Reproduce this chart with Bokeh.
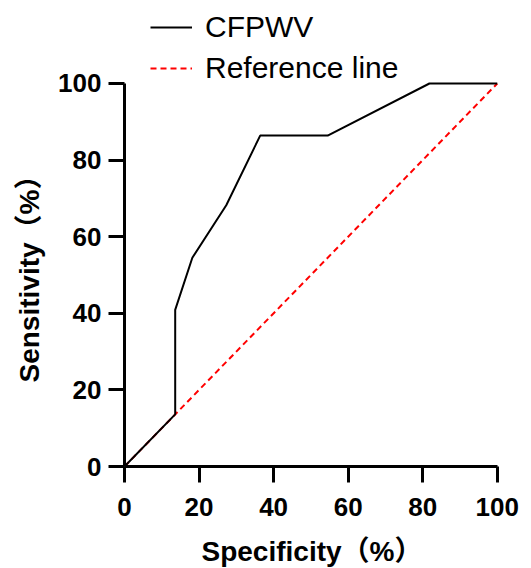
from bokeh.plotting import figure
from bokeh.models import Range1d, Legend, LegendItem, FixedTicker, Title
from bokeh.embed import file_html
from bokeh.resources import INLINE

# ROC curve data
specificity = [0, 13.6, 13.6, 18.2, 27.3, 36.4, 54.5, 81.8, 100]
sensitivity = [0, 13.6, 40.9, 54.5, 68.2, 86.4, 86.4, 100, 100]
ref_x = [0, 100]
ref_y = [0, 100]
ticks = [0, 20, 40, 60, 80, 100]
series_labels = ["CFPWV", "Reference line"]
x_title = "Specificity（%）"
y_title = "Sensitivity（%）"

FONT = "'Liberation Sans', Arial, 'Noto Sans CJK SC', sans-serif"

# frame reaches the top of the page so the legend (inside the frame) is not clipped;
# the y axis line is bounded to 0..100
p = figure(
    frame_width=375, frame_height=466,
    min_border_left=118, min_border_right=32,
    min_border_top=0, min_border_bottom=102,
    x_range=Range1d(0, 100.6), y_range=Range1d(0, 121.67),
    output_backend="svg", toolbar_location=None,
)
p.outline_line_color = None
p.grid.visible = False
p.background_fill_color = "white"
p.border_fill_color = "white"

r2 = p.line(ref_x, ref_y, line_color="red", line_dash="6 4", line_width=2)
r1 = p.line(specificity, sensitivity, line_color="black", line_width=2)

for ax in (p.xaxis[0], p.yaxis[0]):
    ax.ticker = FixedTicker(ticks=ticks)
    ax.bounds = (0, 100)
    ax.axis_line_width = 3
    ax.axis_line_color = "black"
    ax.major_tick_line_width = 3
    ax.major_tick_line_color = "black"
    ax.major_tick_out = 16
    ax.major_tick_in = 0
    ax.minor_tick_line_color = None
    ax.major_label_text_font = FONT
    ax.major_label_text_font_size = "26px"
    ax.major_label_text_font_style = "bold"
    ax.major_label_text_color = "black"
    ax.axis_label_text_font = FONT
    ax.axis_label_text_font_size = "28px"
    ax.axis_label_text_font_style = "bold"
    ax.axis_label_text_color = "black"

p.xaxis[0].axis_label = x_title
p.xaxis[0].major_label_standoff = 15
p.yaxis[0].major_label_standoff = 7
p.xaxis[0].axis_label_standoff = 17

# y axis title placed along the 0..100 part of the axis
ytitle = Title(
    text=y_title, align="left", offset=84, vertical_align="bottom",
    standoff=22, text_font=FONT, text_font_size="28px",
    text_font_style="bold", text_color="black",
)
p.add_layout(ytitle, "left")

legend = Legend(
    items=[LegendItem(label=series_labels[0], renderers=[r1]),
           LegendItem(label=series_labels[1], renderers=[r2])],
    location=(26, 381),
    border_line_color=None,
    background_fill_alpha=0,
    padding=0, margin=0, spacing=7,
    glyph_width=42, glyph_height=32, label_height=32,
    label_standoff=13,
    label_text_font=FONT,
    label_text_font_size="30px",
    label_text_color="black",
)
p.add_layout(legend)

open("out.html", "w").write(file_html(p, INLINE))
